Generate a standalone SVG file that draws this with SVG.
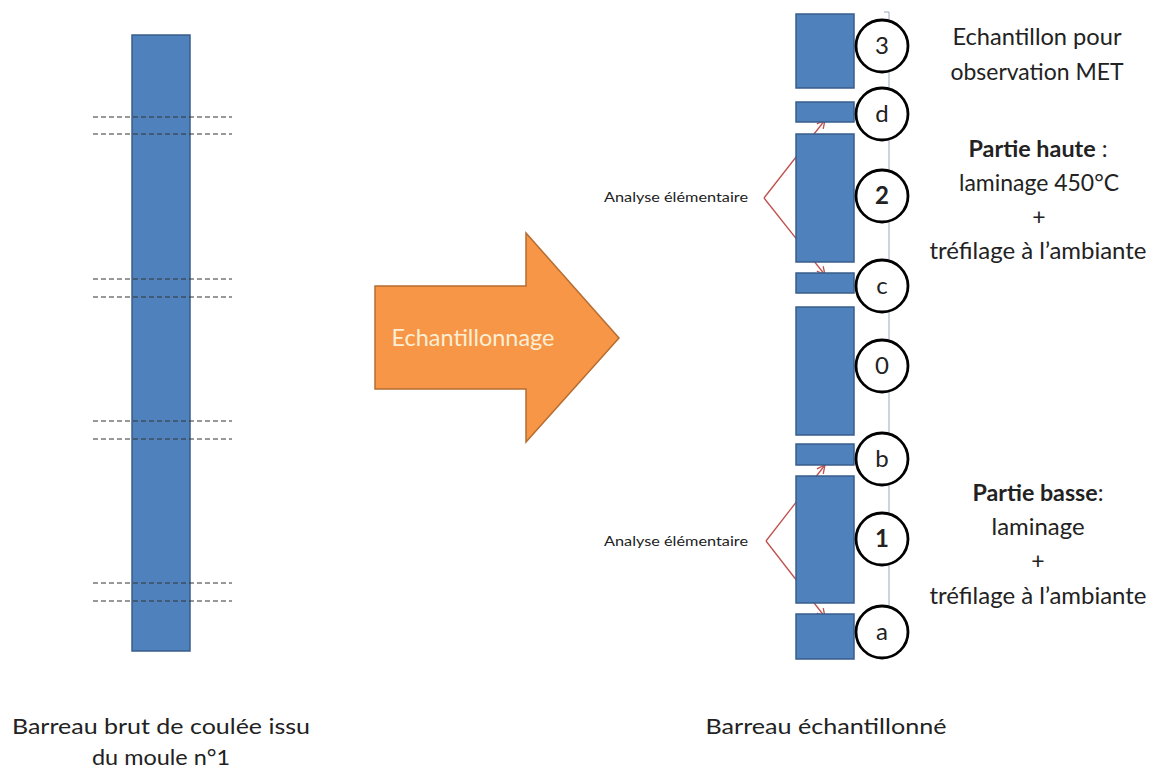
<svg xmlns="http://www.w3.org/2000/svg" width="1154" height="771" viewBox="0 0 1154 771">
<defs>
<style>
.bar{fill:#4f81bd;stroke:#385d8a;stroke-width:1.5}
.dash{stroke:#333;stroke-width:1;stroke-dasharray:5,3}
.circ{fill:#fff;stroke:#000;stroke-width:2.8}
.t{font-family:Lato,"Liberation Sans",sans-serif;fill:#222}
.cl{font-family:Lato,"Liberation Sans",sans-serif;font-size:24px;fill:#222;text-anchor:middle}
.r{font-family:Lato,"Liberation Sans",sans-serif;font-size:23px;fill:#222;text-anchor:middle}
.red{stroke:#c0504d;stroke-width:1.3;fill:none}
</style>
<marker id="ah" markerWidth="10" markerHeight="10" refX="9" refY="5" orient="auto" markerUnits="userSpaceOnUse">
<path d="M1,1 L9,5 L1,9" fill="none" stroke="#c0504d" stroke-width="1.3"/>
</marker>
</defs>
<rect width="1154" height="771" fill="#fff"/>

<g id="raw-bar">
<rect class="bar" x="132" y="35" width="58" height="616"/>
<line class="dash" x1="93" y1="117" x2="232" y2="117"/>
<line class="dash" x1="93" y1="134" x2="232" y2="134"/>
<line class="dash" x1="93" y1="279" x2="232" y2="279"/>
<line class="dash" x1="93" y1="297" x2="232" y2="297"/>
<line class="dash" x1="93" y1="421" x2="232" y2="421"/>
<line class="dash" x1="93" y1="439" x2="232" y2="439"/>
<line class="dash" x1="93" y1="583" x2="232" y2="583"/>
<line class="dash" x1="93" y1="601" x2="232" y2="601"/>
</g>

<g id="arrow-echantillonnage">
<path d="M375,286 L526,286 L526,233 L619,338 L526,442 L526,389 L375,389 Z" fill="#f79646" stroke="#b66d31" stroke-width="1.5"/>
<text class="t" x="473" y="346" font-size="23" style="fill:#fbeed5" text-anchor="middle" textLength="163" lengthAdjust="spacingAndGlyphs">Echantillonnage</text>
</g>

<g id="connectors">
<line x1="889" y1="12" x2="889" y2="610" stroke="#9aa6bf" stroke-width="1"/>
<line x1="884" y1="12" x2="889" y2="12" stroke="#9aa6bf" stroke-width="1"/>
<line class="red" x1="764" y1="198" x2="825" y2="275" marker-end="url(#ah)"/>
<line class="red" x1="764" y1="198" x2="825" y2="120" marker-end="url(#ah)"/>
<line class="red" x1="766" y1="541" x2="825" y2="617" marker-end="url(#ah)"/>
<line class="red" x1="766" y1="541" x2="825" y2="465" marker-end="url(#ah)"/>
</g>

<g id="sample-3"><rect class="bar" x="796" y="14" width="58" height="74"/><circle class="circ" cx="882" cy="46" r="26"/><text class="cl" x="882" y="54">3</text></g>
<g id="sample-d"><rect class="bar" x="796" y="102" width="58" height="20"/><circle class="circ" cx="882" cy="114" r="26"/><text class="cl" x="882" y="122">d</text></g>
<g id="sample-2"><rect class="bar" x="796" y="134" width="58" height="128"/><circle class="circ" cx="882" cy="196" r="26"/><text class="cl" x="882" y="204" font-weight="bold">2</text></g>
<g id="sample-c"><rect class="bar" x="796" y="273" width="58" height="20"/><circle class="circ" cx="882" cy="286" r="26"/><text class="cl" x="882" y="294">c</text></g>
<g id="sample-0"><rect class="bar" x="796" y="307" width="58" height="128"/><circle class="circ" cx="882" cy="366" r="26"/><text class="cl" x="882" y="374">0</text></g>
<g id="sample-b"><rect class="bar" x="796" y="444" width="58" height="21"/><circle class="circ" cx="882" cy="459" r="26"/><text class="cl" x="882" y="467">b</text></g>
<g id="sample-1"><rect class="bar" x="796" y="476" width="58" height="127"/><circle class="circ" cx="882" cy="539" r="26"/><text class="cl" x="882" y="547" font-weight="bold">1</text></g>
<g id="sample-a"><rect class="bar" x="796" y="614" width="58" height="45"/><circle class="circ" cx="882" cy="632" r="26"/><text class="cl" x="882" y="640">a</text></g>

<g id="label-analyse-haut"><text class="t" x="604" y="202" font-size="13.5" textLength="144" lengthAdjust="spacingAndGlyphs">Analyse élémentaire</text></g>
<g id="label-analyse-bas"><text class="t" x="604" y="546" font-size="13.5" textLength="144" lengthAdjust="spacingAndGlyphs">Analyse élémentaire</text></g>

<g id="label-met">
<text class="r" x="1037" y="45" textLength="169" lengthAdjust="spacingAndGlyphs">Echantillon pour</text>
<text class="r" x="1037" y="80" textLength="173" lengthAdjust="spacingAndGlyphs">observation MET</text>
</g>
<g id="label-haute">
<text class="r" x="1038" y="157" textLength="139" lengthAdjust="spacingAndGlyphs"><tspan font-weight="bold">Partie haute</tspan> :</text>
<text class="r" x="1039" y="191" textLength="160" lengthAdjust="spacingAndGlyphs">laminage 450°C</text>
<text class="r" x="1039" y="225">+</text>
<text class="r" x="1038" y="259" textLength="217" lengthAdjust="spacingAndGlyphs">tréfilage à l’ambiante</text>
</g>
<g id="label-basse">
<text class="r" x="1038" y="501" textLength="131" lengthAdjust="spacingAndGlyphs"><tspan font-weight="bold">Partie basse</tspan>:</text>
<text class="r" x="1038" y="535" textLength="93" lengthAdjust="spacingAndGlyphs">laminage</text>
<text class="r" x="1038" y="569">+</text>
<text class="r" x="1038" y="604" textLength="217" lengthAdjust="spacingAndGlyphs">tréfilage à l’ambiante</text>
</g>

<g id="caption-left">
<text class="t" x="161" y="734" font-size="21" text-anchor="middle" textLength="298" lengthAdjust="spacingAndGlyphs">Barreau brut de coulée issu</text>
<text class="t" x="161" y="765" font-size="21" text-anchor="middle" textLength="138" lengthAdjust="spacingAndGlyphs">du moule n°1</text>
</g>
<g id="caption-right">
<text class="t" x="826" y="734" font-size="21" text-anchor="middle" textLength="241" lengthAdjust="spacingAndGlyphs">Barreau échantillonné</text>
</g>
</svg>
